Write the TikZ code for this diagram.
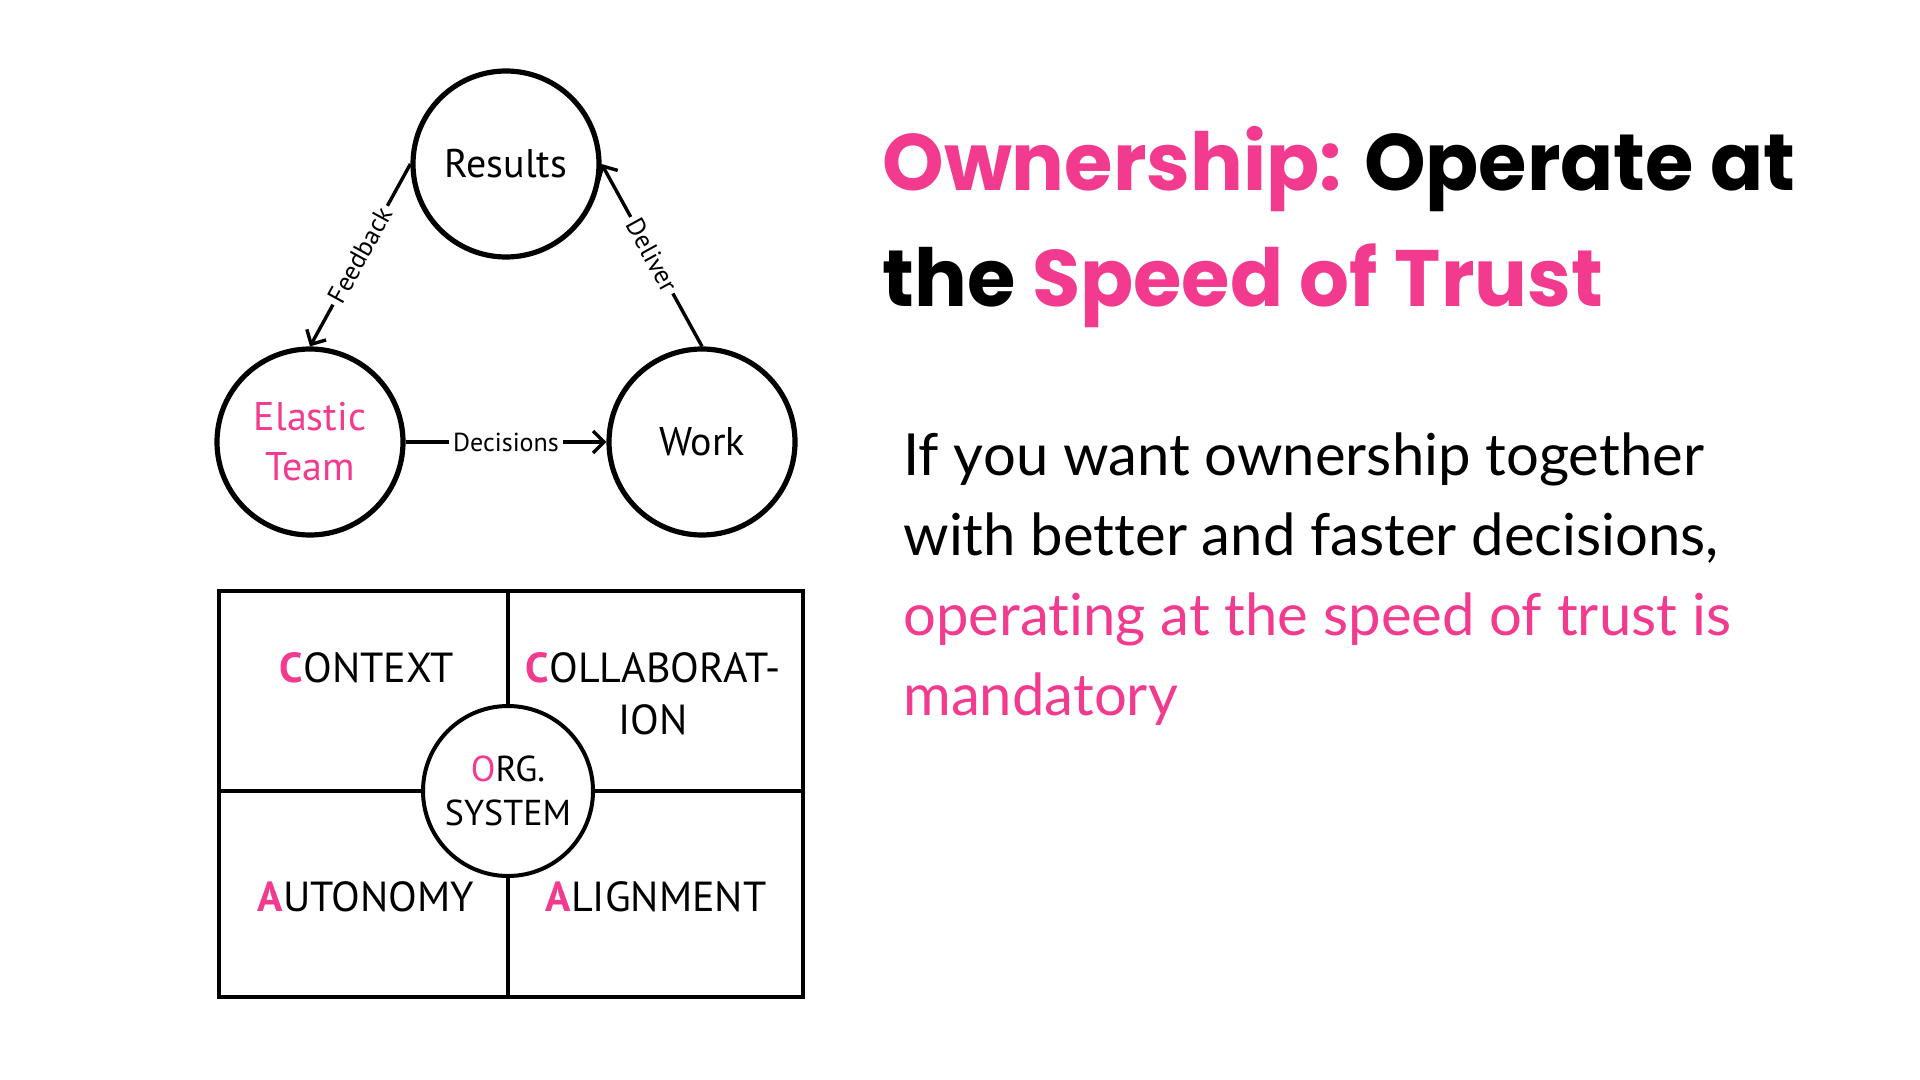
\documentclass[tikz,border=0pt]{standalone}
\usepackage{fontspec}
\setmainfont{PT Sans}
\newfontfamily\titlefont[FakeStretch=0.98]{Poppins}
\newfontfamily\bodyfont[Ligatures=NoCommon]{Lato}
\usetikzlibrary{arrows.meta}
\definecolor{hotpink}{HTML}{F23A8F}
\newcommand{\pk}[1]{{\color{hotpink}\bfseries #1}}
\begin{document}
\begin{tikzpicture}[x=0.5pt,y=-0.5pt,
  cyc/.style={draw,circle,line width=2.6pt,minimum size=93pt,inner sep=0pt,align=center,font=\fontsize{20}{25}\selectfont},
  flow/.style={line width=1.7pt,-{Straight Barb[length=5.5pt,width=11pt,line width=1.7pt]}},
  lbl/.style={fill=white,inner sep=2pt,font=\fontsize{13}{15}\selectfont},
  quad/.style={align=center,font=\fontsize{21}{26}\selectfont}]
\useasboundingbox[fill=white] (0,0) rectangle (1920,1080);
% loop of circles
\node[cyc] (res) at (506,164) {Results};
\node[cyc,text=hotpink] (team) at (310,442) {Elastic\\Team};
\node[cyc] (work) at (702,442) {Work};
\draw[flow] (res.west) -- (team.north) node[lbl,midway,sloped] {Feedback};
\draw[flow] (team.east) -- (work.west) node[lbl,midway] {Decisions};
\draw[flow] (work.north) -- (res.east) node[lbl,midway,sloped] {Deliver};
% the grid
\node[draw,line width=2pt,minimum width=292pt,minimum height=203pt] (grid) at (511,794) {};
\node[draw,circle,fill=white,line width=2pt,minimum size=85pt,inner sep=0pt,align=center,font=\fontsize{18}{22}\selectfont] (org) at (508,791) {{\color{hotpink}O}RG.\\SYSTEM};
\draw[line width=2pt] (org.north) -- (org.north |- grid.north);
\draw[line width=2pt] (org.south) -- (org.south |- grid.south);
\draw[line width=2pt] (org.west) -- (org.west -| grid.west);
\draw[line width=2pt] (org.east) -- (org.east -| grid.east);
\node[quad] (ctx) at (367,668) {\pk{C}ONTEXT};
\node[quad] (col) at (653,694) {\pk{C}OLLABORAT-\\ION};
\node[quad] (aut) at (366,897) {\pk{A}UTONOMY};
\node[quad] (ali) at (656,897) {\pk{A}LIGNMENT};
% text on the right
\node[anchor=north west,inner sep=0pt,align=left,font=\titlefont\bfseries\fontsize{40}{58}\selectfont] (title) at (882,126)
  {{\color{hotpink}Ownership:} Operate at\\the {\color{hotpink}Speed of Trust}};
\node[anchor=north west,inner sep=0pt,align=left,font=\bodyfont\fontsize{29}{40}\selectfont] (body) at (903,432)
  {If you want ownership together\\with better and faster decisions,\\{\color{hotpink}operating at the speed of trust is}\\{\color{hotpink}mandatory}};
\end{tikzpicture}
\end{document}
